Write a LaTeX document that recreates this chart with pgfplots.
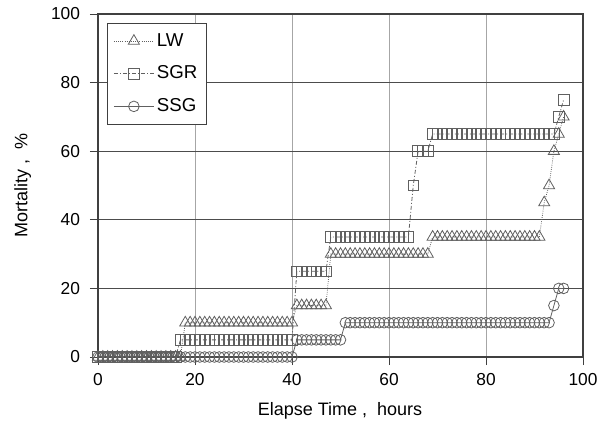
\documentclass[border=0pt]{standalone}
\usepackage{fontspec}
\setmainfont{Liberation Sans}
\usepackage{pgfplots}
\pgfplotsset{compat=1.18}
\definecolor{axc}{HTML}{404040}
\definecolor{mk}{HTML}{606060}
\begin{document}
\begin{tikzpicture}
\begin{axis}[
  scale only axis,
  width=363.75pt, height=257.25pt,
  xmin=0, xmax=100, ymin=0, ymax=100,
  xtick={0,20,40,60,80,100}, ytick={0,20,40,60,80,100},
  xtick pos=bottom, ytick pos=left,
  tick align=outside, major tick length=6pt,
  tick style={draw=axc, line width=0.6pt},
  axis line style={draw=axc, line width=0.8pt},
  xmajorgrids, ymajorgrids,
  x grid style={draw=black!35, line width=0.7pt},
  y grid style={draw=black!70, line width=0.7pt},
  /pgf/number format/assume math mode=true,
  tick label style={font=\fontsize{13}{15}\selectfont, text=black},
  xticklabel style={yshift=-2.5pt},
  yticklabel style={xshift=-4pt},
  label style={font=\fontsize{13.5}{16}\selectfont},
  xlabel={Elapse Time ,\ \ hours},
  ylabel={Mortality ,\ \ \%},
  xlabel style={at={(axis description cs:0.499,-0.158)}, anchor=center},
  ylabel style={at={(axis description cs:-0.155,0.5)}, anchor=center},
  legend style={at={(axis description cs:0.0186,0.974)}, anchor=north west,
    draw=axc, fill=white, line width=0.7pt, inner xsep=4.5pt, inner ysep=5pt,
    font=\fontsize{14}{16}\selectfont, row sep=8pt,
    nodes={text height=10pt, text depth=2.5pt, inner sep=2pt}},
  legend cell align=left,
  legend image code/.code={\draw[mark repeat=2, mark phase=2] plot coordinates {(0pt,0pt) (15pt,0pt) (30pt,0pt)};},
]
% LW
\addplot[draw=mk, line width=0.6pt, densely dotted, mark=triangle, mark size=4.8pt,
  mark options={solid, draw=mk, fill=white, line width=0.6pt}] coordinates {
(0,0)(1,0)(2,0)(3,0)(4,0)(5,0)(6,0)(7,0)(8,0)(9,0)(10,0)(11,0)(12,0)(13,0)(14,0)(15,0)(16,0)(17,0)
(18,10)(19,10)(20,10)(21,10)(22,10)(23,10)(24,10)(25,10)(26,10)(27,10)(28,10)(29,10)(30,10)(31,10)(32,10)(33,10)(34,10)(35,10)(36,10)(37,10)(38,10)(39,10)(40,10)
(41,15)(42,15)(43,15)(44,15)(45,15)(46,15)(47,15)
(48,30)(49,30)(50,30)(51,30)(52,30)(53,30)(54,30)(55,30)(56,30)(57,30)(58,30)(59,30)(60,30)(61,30)(62,30)(63,30)(64,30)(65,30)(66,30)(67,30)(68,30)
(69,35)(70,35)(71,35)(72,35)(73,35)(74,35)(75,35)(76,35)(77,35)(78,35)(79,35)(80,35)(81,35)(82,35)(83,35)(84,35)(85,35)(86,35)(87,35)(88,35)(89,35)(90,35)(91,35)
(92,45)(93,50)(94,60)(95,65)(96,70)
};
\addlegendentry{LW}
% SGR
\addplot[draw=mk, line width=0.6pt, dash pattern=on 3pt off 1.5pt on 0.8pt off 1.5pt, mark=square, mark size=4pt,
  mark options={solid, draw=mk, fill=white, line width=0.6pt}] coordinates {
(0,0)(1,0)(2,0)(3,0)(4,0)(5,0)(6,0)(7,0)(8,0)(9,0)(10,0)(11,0)(12,0)(13,0)(14,0)(15,0)(16,0)
(17,5)(18,5)(19,5)(20,5)(21,5)(22,5)(23,5)(24,5)(25,5)(26,5)(27,5)(28,5)(29,5)(30,5)(31,5)(32,5)(33,5)(34,5)(35,5)(36,5)(37,5)(38,5)(39,5)(40,5)
(41,25)(42,25)(43,25)(44,25)(45,25)(46,25)(47,25)
(48,35)(49,35)(50,35)(51,35)(52,35)(53,35)(54,35)(55,35)(56,35)(57,35)(58,35)(59,35)(60,35)(61,35)(62,35)(63,35)(64,35)
(65,50)(66,60)(67,60)(68,60)
(69,65)(70,65)(71,65)(72,65)(73,65)(74,65)(75,65)(76,65)(77,65)(78,65)(79,65)(80,65)(81,65)(82,65)(83,65)(84,65)(85,65)(86,65)(87,65)(88,65)(89,65)(90,65)(91,65)(92,65)(93,65)(94,65)
(95,70)(96,75)
};
\addlegendentry{SGR}
% SSG
\addplot[draw=mk, line width=0.6pt, solid, mark=o, mark size=4pt,
  mark options={solid, draw=mk, fill=white, line width=0.6pt}] coordinates {
(0,0)(1,0)(2,0)(3,0)(4,0)(5,0)(6,0)(7,0)(8,0)(9,0)(10,0)(11,0)(12,0)(13,0)(14,0)(15,0)(16,0)(17,0)(18,0)(19,0)(20,0)
(21,0)(22,0)(23,0)(24,0)(25,0)(26,0)(27,0)(28,0)(29,0)(30,0)(31,0)(32,0)(33,0)(34,0)(35,0)(36,0)(37,0)(38,0)(39,0)(40,0)
(41,5)(42,5)(43,5)(44,5)(45,5)(46,5)(47,5)(48,5)(49,5)(50,5)
(51,10)(52,10)(53,10)(54,10)(55,10)(56,10)(57,10)(58,10)(59,10)(60,10)(61,10)(62,10)(63,10)(64,10)(65,10)(66,10)(67,10)(68,10)(69,10)(70,10)
(71,10)(72,10)(73,10)(74,10)(75,10)(76,10)(77,10)(78,10)(79,10)(80,10)(81,10)(82,10)(83,10)(84,10)(85,10)(86,10)(87,10)(88,10)(89,10)(90,10)(91,10)(92,10)(93,10)
(94,15)(95,20)(96,20)
};
\addlegendentry{SSG}
\end{axis}
\pgfresetboundingbox
\path[use as bounding box] ([xshift=-73.5pt,yshift=-51pt]current axis.south west) rectangle ([xshift=17.25pt,yshift=10.5pt]current axis.north east);
\end{tikzpicture}
\end{document}
